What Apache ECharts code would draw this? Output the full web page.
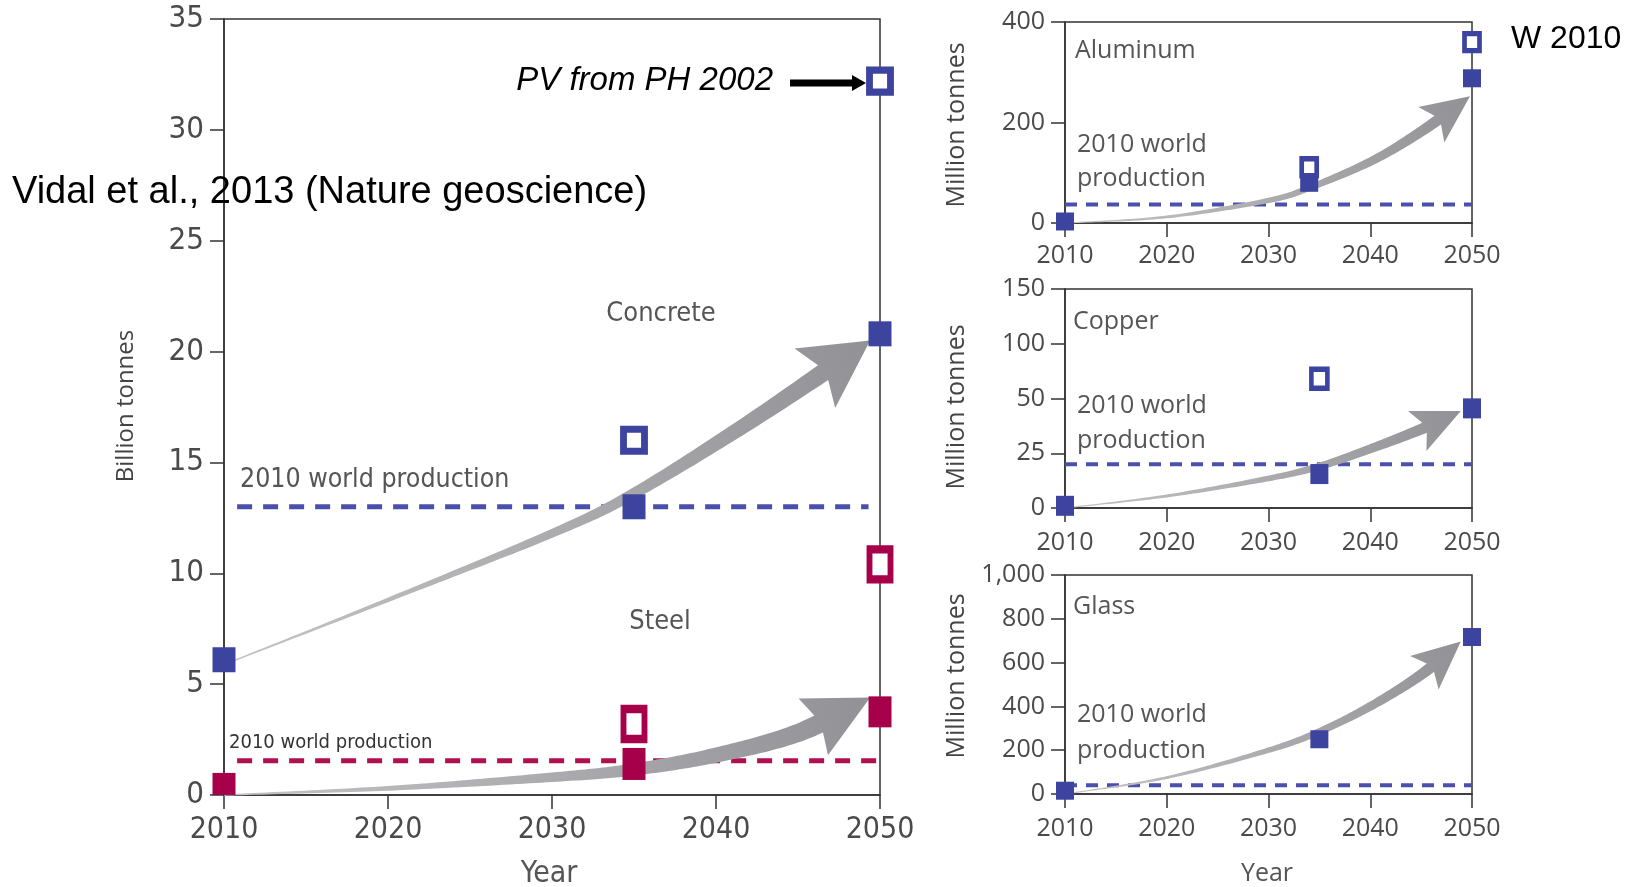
<!DOCTYPE html>
<html>
<head>
<meta charset="utf-8">
<script src="https://cdn.jsdelivr.net/npm/echarts@6/dist/echarts.min.js"></script>
<style>
  html, body { margin: 0; padding: 0; background: #fff; }
  #chart { width: 1642px; height: 887px; }
</style>
</head>
<body>
<div id="chart"></div>
<script>
// ---- Axis ticks ----
const yearTicks = [2010, 2020, 2030, 2040, 2050];
const copperTickValues = [0, 25, 50, 100, 150];   // copper axis: equal spacing per tick

// ---- Concrete & steel (billion tonnes) ----
const mainYears = [2010, 2035, 2050];
const concreteFilled = [6.1, 13.0, 20.8];
const concreteOpenYears = [2035, 2050];
const concreteOpen = [16.0, 32.2];
const concreteWorld2010 = 13.0;
const steelFilled = [0.5, 1.4, 3.75];
const steelOpenYears = [2035, 2050];
const steelOpen = [3.2, 10.4];
const steelWorld2010 = 1.55;

// growth trend arrows (year, value) along their centre line
const concreteTrendYears = [2010.4, 2020, 2030, 2035, 2042, 2049.4];
const concreteTrendValues = [6.0, 8.8, 11.8, 13.6, 16.8, 20.5];
const steelTrendYears = [2010, 2020, 2030, 2035, 2040, 2045, 2049.4];
const steelTrendValues = [0.0, 0.3, 0.8, 1.15, 1.8, 2.8, 4.4];

// ---- Aluminum (million tonnes) ----
const aluYears = [2010, 2034, 2050];
const aluFilled = [3, 80, 288];
const aluOpenYears = [2034, 2050];
const aluOpen = [111, 360];
const aluWorld2010 = 37;
const aluTrendYears = [2010, 2020, 2030, 2034, 2040, 2045, 2049.8];
const aluTrendValues = [0, 12, 45, 70, 122, 182, 252];

// ---- Copper (million tonnes) ----
const cuYears = [2010, 2035, 2050];
const cuFilled = [1, 15.5, 45.5];
const cuOpenYears = [2035];
const cuOpen = [68];
const cuWorld2010 = 20;
const cuTrendYears = [2010, 2020, 2030, 2035, 2040, 2045, 2048.9];
const cuTrendValues = [0, 5.5, 13.5, 19, 27, 36, 44.3];

// ---- Glass (million tonnes) ----
const glYears = [2010, 2035, 2050];
const glFilled = [15, 250, 717];
const glWorld2010 = 40;
const glTrendYears = [2010, 2020, 2030, 2035, 2040, 2045, 2048.9];
const glTrendValues = [0, 75, 200, 285, 400, 545, 696];

// ---- Styling ----
const BLUE = '#3d449f';
const CRIMSON = '#a50049';
const AXIS = '#333';
const LABEL = '#4a4a4a';
const NARROW = '"Liberation Sans Narrow", "DejaVu Sans Condensed", "Open Sans", sans-serif';
const WIDE = '"Open Sans", "Noto Sans", sans-serif';
const ARIAL = '"Liberation Sans", Arial, sans-serif';

// copper values mapped onto its evenly spaced tick positions
function copperPos(v) {
  const t = copperTickValues;
  for (let i = 0; i < t.length - 1; i++) {
    if (v <= t[i + 1]) return i + (v - t[i]) / (t[i + 1] - t[i]);
  }
  return t.length - 1;
}

const zip = (xs, ys, f) => xs.map((x, i) => [x, f ? f(ys[i]) : ys[i]]);

// Catmull-Rom spline through pixel points
function spline(p, n) {
  const out = [];
  for (let i = 0; i < p.length - 1; i++) {
    const p0 = p[Math.max(i - 1, 0)], p1 = p[i], p2 = p[i + 1], p3 = p[Math.min(i + 2, p.length - 1)];
    for (let k = 0; k < n; k++) {
      const t = k / n, t2 = t * t, t3 = t2 * t;
      out.push([0, 1].map(j => 0.5 * (2 * p1[j] + (-p0[j] + p2[j]) * t +
        (2 * p0[j] - 5 * p1[j] + 4 * p2[j] - p3[j]) * t2 +
        (-p0[j] + 3 * p1[j] - 3 * p2[j] + p3[j]) * t3)));
    }
  }
  out.push(p[p.length - 1].slice());
  return out;
}

// tapered curved arrow drawn along a trend line
function trendArrow(trend, o) {
  return function (params, api) {
    const pts = spline(trend.map(p => api.coord(p)), 24);
    const cum = [0];
    for (let i = 1; i < pts.length; i++) {
      cum.push(cum[i - 1] + Math.hypot(pts[i][0] - pts[i - 1][0], pts[i][1] - pts[i - 1][1]));
    }
    const S = cum[cum.length - 1];
    const baseLen = S - o.headLen;
    const shaft = [];
    const sl = [];
    let B = null;
    for (let i = 0; i < pts.length; i++) {
      if (cum[i] < baseLen) { shaft.push(pts[i]); sl.push(cum[i]); }
      else {
        const a = pts[i - 1], b = pts[i];
        const f = (baseLen - cum[i - 1]) / (cum[i] - cum[i - 1]);
        B = [a[0] + (b[0] - a[0]) * f, a[1] + (b[1] - a[1]) * f];
        break;
      }
    }
    shaft.push(B); sl.push(baseLen);
    const T = pts[pts.length - 1];
    let dx = T[0] - B[0], dy = T[1] - B[1];
    const dl = Math.hypot(dx, dy); dx /= dl; dy /= dl;
    const left = [], right = [];
    for (let i = 0; i < shaft.length; i++) {
      let tx, ty;
      if (i === shaft.length - 1) { tx = dx; ty = dy; }
      else {
        const a = shaft[Math.max(i - 1, 0)], b = shaft[i + 1];
        tx = b[0] - a[0]; ty = b[1] - a[1];
        const l = Math.hypot(tx, ty); tx /= l; ty /= l;
      }
      const w = o.w0 + (o.w1 - o.w0) * Math.pow(sl[i] / baseLen, o.pow || 1);
      const nx = -ty, ny = tx;
      left.push([shaft[i][0] + nx * w / 2, shaft[i][1] + ny * w / 2]);
      right.push([shaft[i][0] - nx * w / 2, shaft[i][1] - ny * w / 2]);
    }
    const nx = -dy, ny = dx;
    const back = o.headLen + o.sweep;
    const wl = [T[0] - dx * back + nx * o.headHalf, T[1] - dy * back + ny * o.headHalf];
    const wr = [T[0] - dx * back - nx * o.headHalf, T[1] - dy * back - ny * o.headHalf];
    const poly = left.concat([wl, T, wr], right.reverse());
    return {
      type: 'polygon',
      shape: { points: poly },
      style: {
        fill: new echarts.graphic.LinearGradient(pts[0][0], pts[0][1], T[0], T[1], [
          { offset: 0, color: '#c4c4c7' }, { offset: 1, color: '#929296' }
        ], true)
      }
    };
  };
}

function xAxis(gridIndex, fontSize, font, margin) {
  return {
    type: 'value', gridIndex, min: yearTicks[0], max: yearTicks[yearTicks.length - 1], interval: 10,
    axisLine: { show: true, onZero: false, lineStyle: { color: AXIS, width: 1.5 } },
    axisTick: { show: true, length: 14, lineStyle: { color: AXIS, width: 1.5 } },
    axisLabel: { color: LABEL, fontSize, fontFamily: font, margin, formatter: v => String(v) },
    splitLine: { show: false }
  };
}
function yAxis(gridIndex, min, max, interval, fontSize, font, formatter) {
  return {
    type: 'value', gridIndex, min, max, interval,
    axisLine: { show: true, onZero: false, lineStyle: { color: AXIS, width: 1.5 } },
    axisTick: { show: true, length: 14, lineStyle: { color: AXIS, width: 1.5 } },
    axisLabel: { color: LABEL, fontSize, fontFamily: font, margin: 20, formatter: formatter || (v => String(v)) },
    splitLine: { show: false }
  };
}

function dashed(idx, value, x0, x1, color, width, dash) {
  return {
    type: 'line', xAxisIndex: idx, yAxisIndex: idx, data: [[x0, value], [x1, value]],
    symbol: 'none', silent: true, z: 2,
    lineStyle: { color, width, type: dash, opacity: 1 }
  };
}
function markers(idx, data, color, size, open, border) {
  return {
    type: 'scatter', xAxisIndex: idx, yAxisIndex: idx, symbol: 'rect', silent: true, z: 5,
    data: data.map((d, i) => ({ value: d, symbolSize: Array.isArray(size[0]) ? size[i] : size })),
    itemStyle: open
      ? { color: '#fff', borderColor: color, borderWidth: border, opacity: 1 }
      : { color, opacity: 1 },
    clip: false
  };
}
function arrow(idx, trend, opts) {
  return {
    type: 'custom', xAxisIndex: idx, yAxisIndex: idx, silent: true, z: 3, clip: false,
    data: [trend[0]], renderItem: trendArrow(trend, opts)
  };
}

const mainArrow = { w0: 1.5, w1: 18, pow: 1.3, headLen: 57, headHalf: 36, sweep: 10 };
const steelArrow = { w0: 1.5, w1: 19, pow: 1.3, headLen: 58, headHalf: 32, sweep: 6 };
const smallArrow = { w0: 1, w1: 11, pow: 1.3, headLen: 40, headHalf: 22, sweep: 8 };

const chart = echarts.init(document.getElementById('chart'));
chart.setOption({
  animation: false,
  grid: [
    { left: 224, top: 19, width: 656, height: 776, show: true, borderColor: AXIS, borderWidth: 1.5 },
    { left: 1065, top: 22, width: 407, height: 201, show: true, borderColor: AXIS, borderWidth: 1.5 },
    { left: 1065, top: 289, width: 407, height: 219, show: true, borderColor: AXIS, borderWidth: 1.5 },
    { left: 1065, top: 575, width: 407, height: 219, show: true, borderColor: AXIS, borderWidth: 1.5 }
  ],
  xAxis: [
    xAxis(0, 30, NARROW, 20),
    xAxis(1, 25, WIDE, 20),
    xAxis(2, 25, WIDE, 22),
    xAxis(3, 25, WIDE, 22)
  ],
  yAxis: [
    yAxis(0, 0, 35, 5, 31, NARROW),
    yAxis(1, 0, 400, 200, 25, WIDE),
    yAxis(2, 0, copperTickValues.length - 1, 1, 25, WIDE, v => String(copperTickValues[v])),
    yAxis(3, 0, 1000, 200, 25, WIDE, v => v.toLocaleString('en-US'))
  ],
  series: [
    // main panel
    dashed(0, concreteWorld2010, 2010.8, 2049.3, '#4a50ab', 5, [15, 11]),
    dashed(0, steelWorld2010, 2010.8, 2050, '#b0104f', 5, [15, 11]),
    arrow(0, zip(concreteTrendYears, concreteTrendValues), mainArrow),
    arrow(0, zip(steelTrendYears, steelTrendValues), steelArrow),
    markers(0, zip(mainYears, concreteFilled), BLUE, [23, 25], false),
    markers(0, zip(concreteOpenYears, concreteOpen), BLUE, [21, 22], true, 7),
    markers(0, zip(mainYears, steelFilled), CRIMSON, [[23, 22], [23, 32], [23, 31]], false),
    markers(0, zip(steelOpenYears, steelOpen), CRIMSON, [21, 30], true, 7),
    // pointer to the PV estimate
    {
      type: 'custom', xAxisIndex: 0, yAxisIndex: 0, silent: true, z: 6, clip: false,
      data: [[concreteOpenYears[1], concreteOpen[1]]],
      renderItem: function (params, api) {
        const p = api.coord([api.value(0), api.value(1)]);
        const y = p[1] + 2;
        return {
          type: 'group', children: [
            { type: 'rect', shape: { x: p[0] - 90, y: y - 3.5, width: 64, height: 7 }, style: { fill: '#000' } },
            { type: 'polygon', shape: { points: [[p[0] - 28, y - 8], [p[0] - 28, y + 8], [p[0] - 14, y]] }, style: { fill: '#000' } },
            { type: 'text', x: p[0] - 107, y: p[1], style: {
              text: 'PV from PH 2002', fill: '#000', font: 'italic 33px ' + ARIAL,
              align: 'right', verticalAlign: 'middle' } }
          ]
        };
      }
    },
    // aluminum
    dashed(1, aluWorld2010, 2010, 2050, '#4a50ab', 4, [12, 9]),
    arrow(1, zip(aluTrendYears, aluTrendValues), smallArrow),
    markers(1, zip(aluYears, aluFilled), BLUE, [18, 18], false),
    markers(1, zip(aluOpenYears, aluOpen), BLUE, [15, 17], true, 5),
    // copper
    dashed(2, copperPos(cuWorld2010), 2010, 2050, '#4a50ab', 4, [12, 9]),
    arrow(2, zip(cuTrendYears, cuTrendValues, copperPos), smallArrow),
    markers(2, zip(cuYears, cuFilled, copperPos), BLUE, [18, 20], false),
    markers(2, zip(cuOpenYears, cuOpen, copperPos), BLUE, [16, 19], true, 5),
    // glass
    dashed(3, glWorld2010, 2010, 2050, '#4a50ab', 4, [12, 9]),
    arrow(3, zip(glTrendYears, glTrendValues), smallArrow),
    markers(3, zip(glYears, glFilled), BLUE, [18, 18], false)
  ],
  graphic: [
    // main panel texts
    { type: 'text', x: 661, y: 314, style: { text: 'Concrete', fill: '#555', font: '27px ' + NARROW, align: 'center', verticalAlign: 'middle' } },
    { type: 'text', x: 660, y: 622, style: { text: 'Steel', fill: '#555', font: '27px ' + NARROW, align: 'center', verticalAlign: 'middle' } },
    { type: 'text', x: 240, y: 480, style: { text: '2010 world production', fill: '#555', font: '26.5px ' + NARROW, verticalAlign: 'middle' } },
    { type: 'text', x: 229, y: 743, style: { text: '2010 world production', fill: '#333', font: '20px ' + NARROW, verticalAlign: 'middle' } },
    { type: 'text', x: 126, y: 406, rotation: Math.PI / 2, style: { text: 'Billion tonnes', fill: '#444', font: '24px ' + WIDE, align: 'center', verticalAlign: 'middle' } },
    { type: 'text', x: 549, y: 874, style: { text: 'Year', fill: '#555', font: '30px ' + NARROW, align: 'center', verticalAlign: 'middle' } },
    { type: 'text', x: 12, y: 193, z: 20, style: { text: 'Vidal et al., 2013 (Nature geoscience)', fill: '#000', font: '38px ' + ARIAL, verticalAlign: 'middle' } },
    // aluminum
    { type: 'text', x: 1511, y: 39, style: { text: 'W 2010', fill: '#000', font: '32px ' + ARIAL, verticalAlign: 'middle' } },
    { type: 'text', x: 1075, y: 51, style: { text: 'Aluminum', fill: '#555', font: '25px ' + WIDE, verticalAlign: 'middle' } },
    { type: 'text', x: 1077, y: 145, style: { text: '2010 world', fill: '#555', font: '25px ' + WIDE, verticalAlign: 'middle' } },
    { type: 'text', x: 1077, y: 179, style: { text: 'production', fill: '#555', font: '25px ' + WIDE, verticalAlign: 'middle' } },
    { type: 'text', x: 957, y: 125, rotation: Math.PI / 2, style: { text: 'Million tonnes', fill: '#444', font: '25px ' + WIDE, align: 'center', verticalAlign: 'middle' } },
    // copper
    { type: 'text', x: 1073, y: 322, style: { text: 'Copper', fill: '#555', font: '25px ' + WIDE, verticalAlign: 'middle' } },
    { type: 'text', x: 1077, y: 406, style: { text: '2010 world', fill: '#555', font: '25px ' + WIDE, verticalAlign: 'middle' } },
    { type: 'text', x: 1077, y: 441, style: { text: 'production', fill: '#555', font: '25px ' + WIDE, verticalAlign: 'middle' } },
    { type: 'text', x: 957, y: 407, rotation: Math.PI / 2, style: { text: 'Million tonnes', fill: '#444', font: '25px ' + WIDE, align: 'center', verticalAlign: 'middle' } },
    // glass
    { type: 'text', x: 1073, y: 607, style: { text: 'Glass', fill: '#555', font: '25px ' + WIDE, verticalAlign: 'middle' } },
    { type: 'text', x: 1077, y: 715, style: { text: '2010 world', fill: '#555', font: '25px ' + WIDE, verticalAlign: 'middle' } },
    { type: 'text', x: 1077, y: 751, style: { text: 'production', fill: '#555', font: '25px ' + WIDE, verticalAlign: 'middle' } },
    { type: 'text', x: 957, y: 676, rotation: Math.PI / 2, style: { text: 'Million tonnes', fill: '#444', font: '25px ' + WIDE, align: 'center', verticalAlign: 'middle' } },
    { type: 'text', x: 1267, y: 874, style: { text: 'Year', fill: '#555', font: '25px ' + WIDE, align: 'center', verticalAlign: 'middle' } }
  ]
});
</script>
</body>
</html>
